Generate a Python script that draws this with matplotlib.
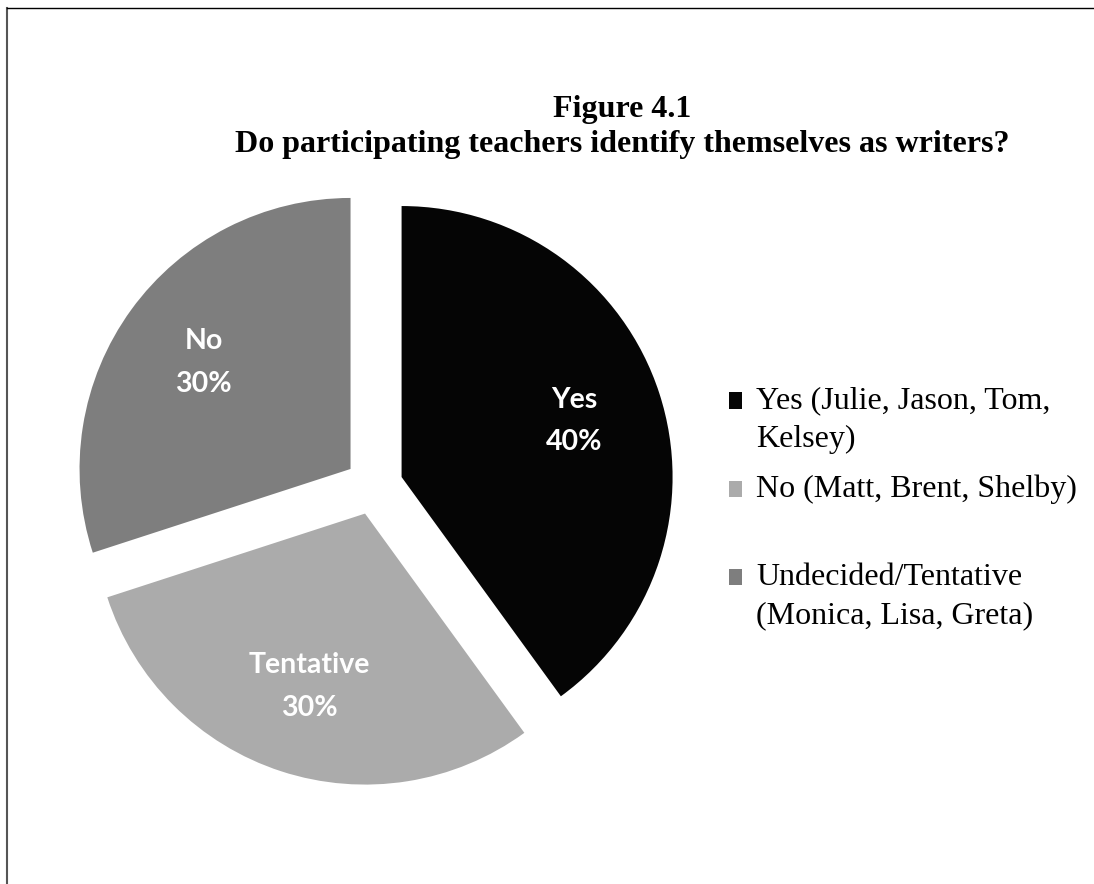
import matplotlib
matplotlib.use("Agg")
import matplotlib.pyplot as plt
from matplotlib.lines import Line2D

# ---- data ----
categories = ["Yes (Julie, Jason, Tom,\nKelsey)",
              "No (Matt, Brent, Shelby)",
              "Undecided/Tentative\n(Monica, Lisa, Greta)"]
values = [40, 30, 30]
slice_labels = ["Yes", "Tentative", "No"]
colors = ["#050505", "#ababab", "#7e7e7e"]
title_line1 = "Figure 4.1"
title_line2 = "Do participating teachers identify themselves as writers?"

W, H = 1094, 884
fig = plt.figure(figsize=(W / 100, H / 100), dpi=100)
ax = fig.add_axes([0, 0, 1, 1])

wedges, texts, autotexts = ax.pie(
    values, colors=colors, startangle=90, counterclock=False,
    explode=[0.107] * 3, radius=1, center=(0, 0),
    autopct='%1.0f%%', pctdistance=0.67,
    textprops=dict(color='white', fontsize=20.5, fontweight='bold', family='Lato'),
    frame=False)

for t, lab in zip(autotexts, slice_labels):
    t.set_text(f"{lab}\n{t.get_text()}")
    t.set_linespacing(1.8)

cx, cy, R = 374, 486, 271
ax.set_xlim(-cx / R, (W - cx) / R)
ax.set_ylim((cy - H) / R, cy / R)
ax.axis('off')

# legend: every entry padded to two lines (Excel-like spacing)
n_lines = max(c.count("\n") + 1 for c in categories)
leg_labels = [c + "\n" * (n_lines - 1 - c.count("\n")) for c in categories]
fs = 23
line_px = 38
ls = 1.36 * line_px / 36
leg = ax.legend(wedges, leg_labels, loc='upper left',
                bbox_to_anchor=(729 / W, 1 - 386 / H), bbox_transform=fig.transFigure,
                frameon=False, prop=dict(family='Liberation Serif', size=fs),
                handlelength=0.4, handleheight=0.4, handletextpad=0.45,
                borderpad=0, borderaxespad=0, labelspacing=0.64)
for t in leg.get_texts():
    t.set_linespacing(ls)
# put each marker beside the first line of its entry
shift_pts = line_px * 72 / 100 / 2
for h in leg.legend_handles:
    h.set_y(h.get_y() + shift_pts)

fig.text(622 / W, 1 - 117 / H, title_line1, ha='center', va='baseline',
         family='Liberation Serif', fontweight='bold', fontsize=23)
fig.text(622 / W, 1 - 152 / H, title_line2, ha='center', va='baseline',
         family='Liberation Serif', fontweight='bold', fontsize=23)

fig.add_artist(Line2D([7 / W, 7 / W], [0, 1 - 8 / H], transform=fig.transFigure,
                      color='#555555', lw=1.5))
fig.add_artist(Line2D([7 / W, 1], [1 - 8 / H, 1 - 8 / H], transform=fig.transFigure,
                      color='black', lw=1))

fig.savefig('out.png', dpi=100)
